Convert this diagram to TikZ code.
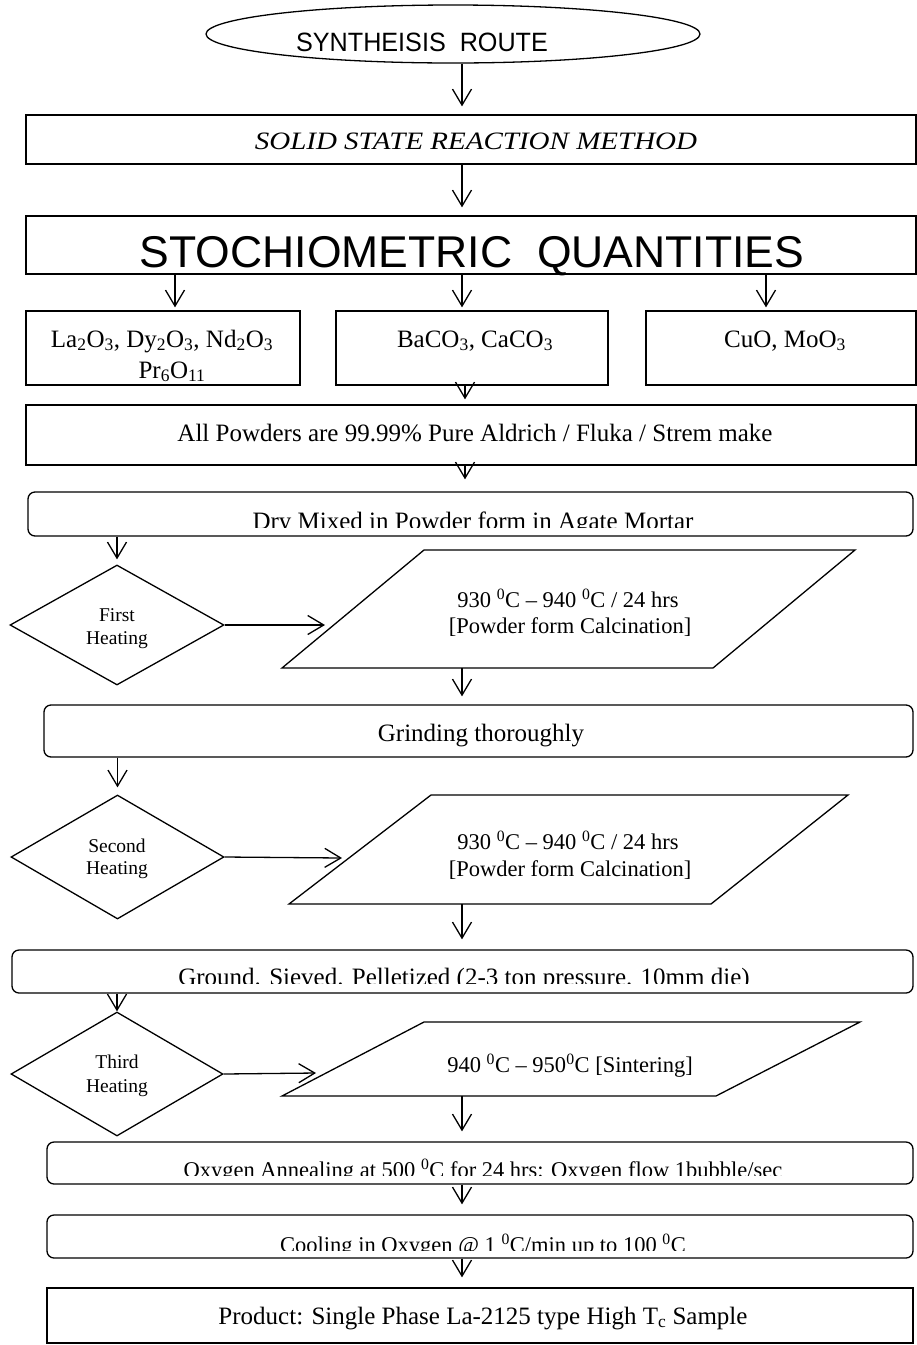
\documentclass[tikz,border=0pt]{standalone}
\usepackage{fontspec}
\setmainfont{Liberation Serif}
\setsansfont{Liberation Sans}
\newfontfamily\narrowsans[FakeStretch=0.95]{Liberation Sans}
\newfontfamily\wideserif[FakeStretch=1.16]{Liberation Serif}
\usetikzlibrary{shapes.geometric,arrows.meta}
\newcommand\setfs[1]{\fontsize{#1}{#1}\selectfont}
\begin{document}
\begin{tikzpicture}[x=1pt,y=-1pt,
  lw/.style={line width=1.3pt},
  box/.style={draw,lw,rectangle,inner sep=0pt},
  rbox/.style={box,rounded corners=7pt},
  dia/.style={draw,lw,diamond,inner sep=0pt},
  arr/.style={lw,-{Straight Barb[length=16pt,width=19pt,line width=1.3pt]}},
  txt/.style={anchor=base,inner sep=0pt,font=\setfs{25}},
  ptxt/.style={anchor=base,inner sep=0pt,font=\setfs{22.5}},
  dtxt/.style={anchor=base,inner sep=0pt,font=\setfs{19.5}}]
\useasboundingbox (0,0) rectangle (917,1345);
\coordinate (cx) at (462,0);
\coordinate (cy) at (465,0);

% start symbol
\node[draw,lw,ellipse,inner sep=0pt,minimum width=494pt,minimum height=58pt] (ell) at (453,34) {};
\node[anchor=base,inner sep=0pt,font=\narrowsans\setfs{26.5}] (tell) at (422,51) {SYNTHEISIS\ \ ROUTE};

% method and quantities
\node[box,minimum width=890pt,minimum height=49pt] (solid) at (471,139.5) {};
\node[anchor=base,inner sep=0pt,font=\wideserif\itshape\setfs{25}] (tsolid) at (476,149) {SOLID STATE REACTION METHOD};
\node[box,minimum width=890pt,minimum height=58pt] (stoch) at (471,245) {};
\node[anchor=base,inner sep=0pt,font=\sffamily\setfs{44.5}] (tstoch) at (472,267) {STOCHIOMETRIC\ \ QUANTITIES};

% raw materials
\node[box,minimum width=274pt,minimum height=74pt] (b1) at (163,348) {};
\node[box,minimum width=272pt,minimum height=74pt] (b2) at (472,348) {};
\node[box,minimum width=270pt,minimum height=74pt] (b3) at (781,348) {};
\node[txt] (tb1a) at (162,347) {La\textsubscript{2}O\textsubscript{3}, Dy\textsubscript{2}O\textsubscript{3}, Nd\textsubscript{2}O\textsubscript{3}};
\node[txt] (tb1b) at (172,378) {Pr\textsubscript{6}O\textsubscript{11}};
\node[txt] (tb2) at (475,347) {BaCO\textsubscript{3}, CaCO\textsubscript{3}};
\node[txt] (tb3) at (785,347) {CuO, MoO\textsubscript{3}};

\node[box,minimum width=890pt,minimum height=60pt] (pow) at (471,435) {};
\node[txt] (tpow) at (475,441) {All Powders are 99.99\% Pure Aldrich / Fluka / Strem make};

\node[rbox,minimum width=885pt,minimum height=44pt] (dry) at (470.5,514) {};
\begin{scope}
  \clip (30,494) rectangle (911,527);
  \node[txt] (tdry) at (473,529) {Dry Mixed in Powder form in Agate Mortar};
\end{scope}

% first heating
\node[dia,minimum width=214pt,minimum height=120pt] (d1) at (117,625) {};
\node[dtxt] (td1a) at (117,621) {First};
\node[dtxt] (td1b) at (117,644) {Heating};
\draw[lw] (282,668) -- (424,550) -- (855,550) -- (713,668) -- cycle;
\coordinate (p1) at (462,668);
\node[ptxt] (tp1a) at (568,607) {930 \textsuperscript{0}C -- 940 \textsuperscript{0}C / 24 hrs};
\node[ptxt] (tp1b) at (570,633) {[Powder form Calcination]};
\coordinate (e1) at (325,625);

\node[rbox,minimum width=869pt,minimum height=52pt] (grind) at (478.5,731) {};
\node[txt] (tgrind) at (481,741) {Grinding thoroughly};

% second heating
\node[dia,minimum width=213pt,minimum height=124pt] (d2) at (117.5,857) {};
\node[dtxt] (td2a) at (117,852) {Second};
\node[dtxt] (td2b) at (117,874) {Heating};
\draw[lw] (289,904) -- (431,795) -- (848,795) -- (711,904) -- cycle;
\coordinate (p2) at (462,904);
\node[ptxt] (tp2a) at (568,849) {930 \textsuperscript{0}C -- 940 \textsuperscript{0}C / 24 hrs};
\begin{scope}
  \clip (300,820) rectangle (830,878);
  \node[ptxt] (tp2b) at (570,876) {[Powder form Calcination]};
\end{scope}
\coordinate (e2) at (342,858);

\node[rbox,minimum width=901pt,minimum height=43pt] (ground) at (462.5,971.5) {};
\begin{scope}
  \clip (14,952) rectangle (911,983);
  \node[txt] (tground) at (464,985) {Ground. Sieved. Pelletized (2-3 ton pressure. 10mm die)};
\end{scope}

% third heating
\node[dia,minimum width=212pt,minimum height=124pt] (d3) at (117,1074) {};
\node[dtxt] (td3a) at (117,1068) {Third};
\node[dtxt] (td3b) at (117,1092) {Heating};
\draw[lw] (282,1096) -- (424,1022) -- (860,1022) -- (716,1096) -- cycle;
\coordinate (p3) at (462,1096);
\node[ptxt] (tp3) at (570,1072) {940 \textsuperscript{0}C -- 950\textsuperscript{0}C [Sintering]};
\coordinate (e3) at (316,1073);

% oxygen treatment and product
\node[rbox,minimum width=866pt,minimum height=42pt] (oxy) at (480,1163) {};
\begin{scope}
  \clip (49,1144) rectangle (911,1175);
  \node[ptxt] (toxy) at (483,1177) {Oxygen Annealing at 500 \textsuperscript{0}C for 24 hrs: Oxygen flow 1bubble/sec};
\end{scope}
\node[rbox,minimum width=866pt,minimum height=43pt] (cool) at (480,1236.5) {};
\begin{scope}
  \clip (49,1217) rectangle (911,1250);
  \node[ptxt] (tcool) at (483,1252) {Cooling in Oxygen @ 1 \textsuperscript{0}C/min up to 100 \textsuperscript{0}C};
\end{scope}
\node[box,minimum width=866pt,minimum height=55pt] (prod) at (480,1315.5) {};
\node[txt] (tprod) at (483,1324) {Product: Single Phase La-2125 type High T\textsubscript{c} Sample};

% connectors
\draw[arr,shorten >=8pt] (ell.south -| cx) -- (solid.north -| cx);
\draw[arr,shorten >=8pt] (solid.south -| cx) -- (stoch.north -| cx);
\draw[arr,shorten >=3pt] (stoch.south -| b1.north) ++(12,0) coordinate (s1) -- (s1 |- b1.north);
\draw[arr,shorten >=3pt] (stoch.south -| cx) -- (b2.north -| cx);
\draw[arr,shorten >=3pt] (stoch.south -| b3.north) ++(-15,0) coordinate (s3) -- (s3 |- b3.north);
\draw[arr,shorten >=5pt] (b2.south -| cy) -- (pow.north -| cy);
\draw[arr,shorten >=12pt] (pow.south -| cy) -- (dry.north -| cy);
\draw[arr,shorten >=5pt] (dry.south -| d1.north) -- (d1.north);
\draw[arr] (d1.east) -- (e1);
\draw[arr,shorten >=8pt] (p1) -- (grind.north -| cx);
\draw[arr,shorten >=7pt] (grind.south -| d2.north) -- (d2.north);
\draw[arr] (d2.east) -- (e2);
\draw[arr,shorten >=10pt] (p2) -- (ground.north -| cx);
\draw[arr] (ground.south -| d3.north) -- (d3.north);
\draw[arr] (d3.east) -- (e3);
\draw[arr,shorten >=10pt] (p3) -- (oxy.north -| cx);
\draw[arr,shorten >=10pt] (oxy.south -| cx) -- (cool.north -| cx);
\draw[arr,shorten >=10pt] (cool.south -| cx) -- (prod.north -| cx);
\end{tikzpicture}
\end{document}
